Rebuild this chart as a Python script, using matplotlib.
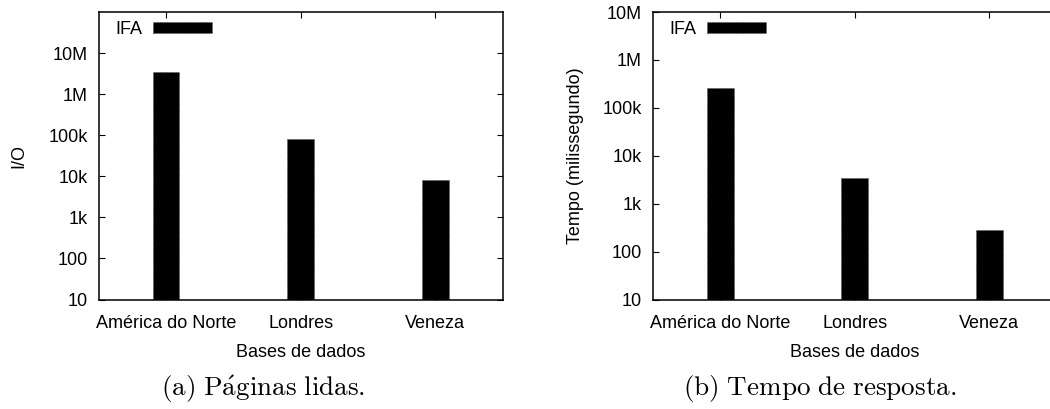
import matplotlib
matplotlib.use("Agg")
import matplotlib.pyplot as plt
from matplotlib.patches import Patch
from matplotlib.ticker import FixedLocator, FixedFormatter, NullLocator

plt.rcParams['font.family'] = ['Liberation Sans', 'DejaVu Sans']
plt.rcParams['mathtext.fontset'] = 'cm'

categories = ["América do Norte", "Londres", "Veneza"]
io_values = [3.5e6, 8.3e4, 8.3e3]
time_values = [2.57e5, 3.4e3, 2.78e2]
series_label = "IFA"

yticks_a = [10, 100, 1e3, 1e4, 1e5, 1e6, 1e7]
ylabels_a = ["10", "100", "1k", "10k", "100k", "1M", "10M"]
yticks_b = [10, 100, 1e3, 1e4, 1e5, 1e6, 1e7]
ylabels_b = ["10", "100", "1k", "10k", "100k", "1M", "10M"]

W, H = 1050, 409
fig = plt.figure(figsize=(W / 100, H / 100), dpi=100)

def px_axes(left, right, top, bottom):
    return [left / W, 1 - bottom / H, (right - left) / W, (bottom - top) / H]

ax1 = fig.add_axes(px_axes(98.7, 502.7, 12, 299.5))
ax2 = fig.add_axes(px_axes(652.7, 1056.7, 12, 299.5))

FS = 13

def style(ax, values, yticks, ylabels, ylim, ylabel, ylab_x, caption, cap_x):
    x = list(range(len(categories)))
    ax.bar(x, values, width=0.2, color='black', edgecolor='#444444',
           linewidth=0.6, linestyle=':', bottom=0)
    ax.set_yscale('log')
    ax.set_ylim(*ylim)
    ax.set_xlim(-0.5, len(categories) - 0.5)
    ax.yaxis.set_major_locator(FixedLocator(yticks))
    ax.yaxis.set_major_formatter(FixedFormatter(ylabels))
    ax.yaxis.set_minor_locator(NullLocator())
    ax.set_xticks(x)
    ax.set_xticklabels(categories)
    ax.tick_params(axis='both', which='major', direction='in', length=4.5,
                   width=0.8, labelsize=FS, top=True, right=True)
    ax.tick_params(axis='y', pad=8)
    ax.tick_params(axis='x', pad=11)
    for s in ax.spines.values():
        s.set_linewidth(1.1)
    ax.set_ylabel(ylabel, fontsize=FS)
    ax.yaxis.set_label_coords(ylab_x, 0.5)
    ax.set_xlabel("Bases de dados", fontsize=FS, labelpad=9)
    handle = Patch(facecolor='black', edgecolor='#444444', linestyle=':', linewidth=0.6)
    ax.legend([handle], [series_label], loc='center left',
              bbox_to_anchor=(16.3 / 404, 1 - 17.5 / 287.5),
              frameon=False, markerfirst=False, fontsize=FS,
              handlelength=3.3, handleheight=0.56, handletextpad=0.6,
              borderpad=0, borderaxespad=0)
    fig.text(cap_x / W, 1 - 389 / H, caption, ha='center', va='center', fontsize=19.5)

style(ax1, io_values, yticks_a, ylabels_a, (10, 1e8), "I/O", -0.176,
      r"$\mathrm{(a)\ P\acute{a}ginas\ lidas.}$", 263)
style(ax2, time_values, yticks_b, ylabels_b, (10, 1e7), "Tempo (milissegundo)", -0.171,
      r"$\mathrm{(b)\ Tempo\ de\ resposta.}$", 819.5)

fig.savefig("out.png", dpi=100)
